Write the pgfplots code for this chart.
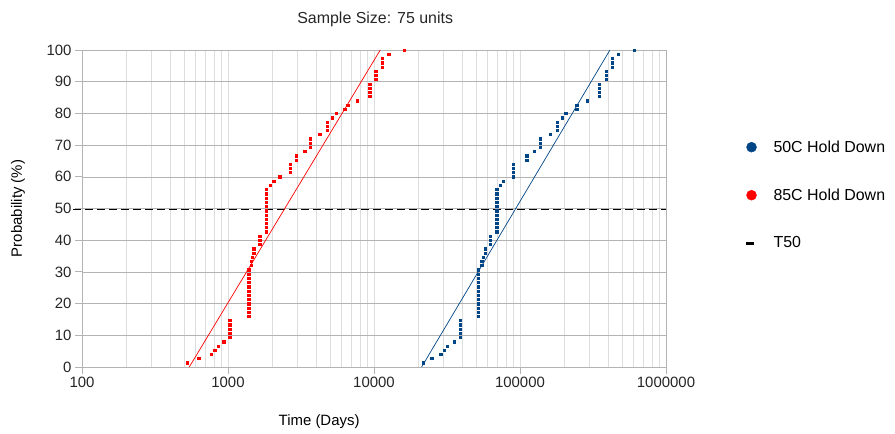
\documentclass[border=0pt]{standalone}
\usepackage{fontspec}
\setmainfont{Liberation Sans}
\usepackage{pgfplots}
\usepackage{pgfplotstable}
\pgfplotsset{compat=1.18}

\definecolor{blueS}{HTML}{004586}
\definecolor{redS}{HTML}{FF0000}
\definecolor{gridmaj}{HTML}{B3B3B3}
\definecolor{gridmin}{HTML}{DDDDDD}

% 85C Hold Down: time (days), probability (%)
\pgfplotstableread{
x y
524 1.33
630 2.67
766 4.00
811 5.33
855 6.67
934 8.00
1026 9.33
1026 10.67
1026 12.00
1026 13.33
1026 14.67
1387 16.00
1387 17.33
1387 18.67
1387 20.00
1387 21.33
1387 22.67
1387 24.00
1387 25.33
1387 26.67
1387 28.00
1387 29.33
1387 30.67
1445 32.00
1445 33.33
1470 34.67
1500 36.00
1500 37.33
1649 38.67
1649 40.00
1649 41.33
1832 42.67
1832 44.00
1832 45.33
1832 46.67
1832 48.00
1832 49.33
1832 50.67
1832 52.00
1832 53.33
1832 54.67
1832 56.00
1950 57.33
2056 58.67
2262 60.00
2673 61.33
2673 62.67
2673 64.00
2940 65.33
2940 66.67
3350 68.00
3665 69.33
3665 70.67
3665 72.00
4245 73.33
4766 74.67
4766 76.00
4766 77.33
5186 78.67
5500 80.00
6300 81.33
6608 82.67
7696 84.00
9340 85.33
9340 86.67
9340 88.00
9340 89.33
10260 90.67
10260 92.00
10260 93.33
11400 94.67
11400 96.00
11400 97.33
12600 98.67
16140 100.00
}\redtable

% 50C Hold Down
\pgfplotstableread{
x y
21770 1.33
24850 2.67
28620 4.00
30150 5.33
31780 6.67
35310 8.00
38810 9.33
38810 10.67
38810 12.00
38810 13.33
38810 14.67
51880 16.00
51880 17.33
51880 18.67
51880 20.00
51880 21.33
51880 22.67
51880 24.00
51880 25.33
51880 26.67
51880 28.00
51880 29.33
51880 30.67
54620 32.00
54620 33.33
55800 34.67
57520 36.00
57520 37.33
62330 38.67
62330 40.00
62330 41.33
69200 42.67
69200 44.00
69200 45.33
69200 46.67
69200 48.00
69200 49.33
69200 50.67
69200 52.00
69200 53.33
69200 54.67
69200 56.00
73000 57.33
76900 58.67
89900 60.00
89900 61.33
89900 62.67
89900 64.00
111000 65.33
111000 66.67
125400 68.00
137000 69.33
137000 70.67
137000 72.00
160500 73.33
180200 74.67
180200 76.00
180200 77.33
194000 78.67
205600 80.00
244500 81.33
244500 82.67
289000 84.00
349300 85.33
349300 86.67
349300 88.00
349300 89.33
388000 90.67
388000 92.00
388000 93.33
428800 94.67
428800 96.00
428800 97.33
471700 98.67
603000 100.00
}\bluetable

\begin{document}
\begin{tikzpicture}
\path[use as bounding box] (-82bp,-67bp) rectangle (813bp,367bp);
\begin{axis}[
  at={(0,0)}, anchor=south west,
  scale only axis, width=584bp, height=317bp,
  xmode=log, log basis x=10,
  xmin=100, xmax=1000000, ymin=0, ymax=100,
  xtick={100,1000,10000,100000,1000000},
  xticklabels={100,1000,10000,100000,1000000},
  minor xtick={200,300,400,500,600,700,800,900,
    2000,3000,4000,5000,6000,7000,8000,9000,
    20000,30000,40000,50000,60000,70000,80000,90000,
    200000,300000,400000,500000,600000,700000,800000,900000},
  ytick={0,10,...,100},
  xmajorgrids=true, xminorgrids=true, ymajorgrids=true,
  x grid style={gridmin},
  y grid style={gridmaj},
  axis line style={gridmaj},
  tick style={gridmaj, line width=0.8bp},
  tick align=outside, tick pos=left,
  major tick length=7bp, minor tick length=0bp,
  /pgf/number format/assume math mode=true,
  tick label style={font=\fontsize{15}{18}\selectfont, text=black!85},
  title={Sample Size: 75 units},
  title style={at={(axis description cs:0.502,1.079)}, anchor=center,
    font=\fontsize{16}{19}\selectfont, text=black!85},
  xlabel={Time (Days)},
  xlabel style={at={(axis description cs:0.406,-0.1735)}, anchor=center,
    font=\fontsize{15}{18}\selectfont},
  ylabel={Probability (\%)},
  ylabel style={at={(axis description cs:-0.1096,0.5)}, anchor=center,
    font=\fontsize{15}{18}\selectfont},
  legend style={draw=none, fill=none,
    at={(axis description cs:1.129,0.5426)}, anchor=west,
    font=\fontsize{16}{19}\selectfont, row sep=31bp,
    /tikz/every odd column/.append style={column sep=13bp}},
  legend cell align=left,
  clip=false,
]

\addplot[only marks, mark=square*, mark size=1.1bp, color=blueS,
  legend image code/.code={\fill[blueS] (0.3cm,0cm) circle (5bp);}]
  table[x=x, y=y] {\bluetable};
\addlegendentry{50C Hold Down}

\addplot[only marks, mark=square*, mark size=1.1bp, color=redS,
  legend image code/.code={\fill[redS] (0.3cm,0cm) circle (5bp);}]
  table[x=x, y=y] {\redtable};
\addlegendentry{85C Hold Down}

% T50
\addplot[black, line width=1.8bp, dash pattern=on 8bp off 4bp,
  legend image code/.code={\draw[black, line width=3bp] (0.3cm-5.5bp,0cm) -- (0.3cm+5.5bp,0cm);}]
  coordinates {(87,49.7) (1000000,49.7)};
\addlegendentry{T50}

% trend lines
\addplot[blueS, line width=0.7bp, forget plot]
  coordinates {(21190,0) (413000,100)};
\addplot[redS, line width=0.7bp, forget plot]
  coordinates {(543,0) (11040,100)};

\end{axis}
\end{tikzpicture}
\end{document}
